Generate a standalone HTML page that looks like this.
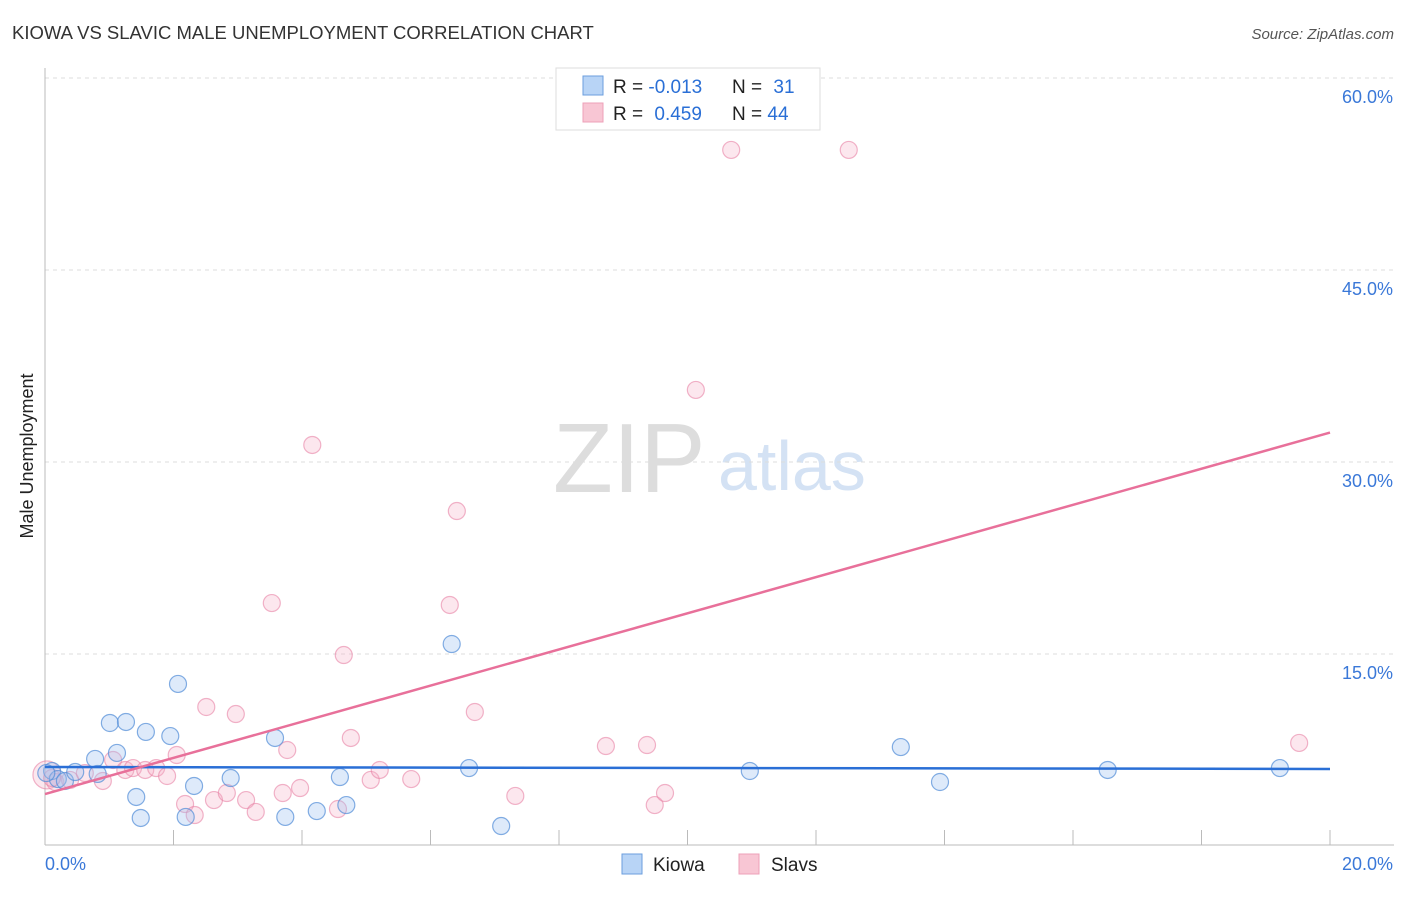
<!DOCTYPE html>
<html><head><meta charset="utf-8"><style>
body{margin:0;background:#fff;font-family:"Liberation Sans",sans-serif;}
svg text{font-family:"Liberation Sans",sans-serif;}
</style></head><body>
<svg width="1406" height="892" xmlns="http://www.w3.org/2000/svg">
<text x="12" y="39" font-size="18.5" fill="#333">KIOWA VS SLAVIC MALE UNEMPLOYMENT CORRELATION CHART</text>
<text x="1394" y="39" font-size="15" fill="#555" font-style="italic" text-anchor="end">Source: ZipAtlas.com</text>
<g>
<text x="553" y="492" font-size="98" fill="#ddd" font-family="Liberation Serif,serif">ZIP</text>
<text x="718" y="490" font-size="70" fill="#d4e2f4">atlas</text>
</g>
<g id="grid"></g>
<g id="axes"></g>
<g id="marks"></g>
<g>
<rect x="556" y="68" width="264" height="62" fill="#fff" stroke="#ddd"/>
<rect x="583" y="76" width="20" height="19" fill="#b8d4f6" stroke="#6b9ede"/>
<rect x="583" y="103" width="20" height="19" fill="#f8c6d4" stroke="#eea0b8"/>
<text x="613" y="93" font-size="19" fill="#222">R = <tspan fill="#2a6fd6">-0.013</tspan></text>
<text x="732" y="93" font-size="19" fill="#222">N = <tspan fill="#2a6fd6" dx="6">31</tspan></text>
<text x="613" y="120" font-size="19" fill="#222">R = <tspan fill="#2a6fd6" dx="6">0.459</tspan></text>
<text x="732" y="120" font-size="19" fill="#222">N = <tspan fill="#2a6fd6">44</tspan></text>
</g>
<g>
<rect x="622" y="854" width="20" height="20" fill="#b8d4f6" stroke="#6b9ede"/>
<text x="653" y="871" font-size="19" fill="#222">Kiowa</text>
<rect x="739" y="854" width="20" height="20" fill="#f8c6d4" stroke="#eea0b8"/>
<text x="771" y="871" font-size="19" fill="#222">Slavs</text>
</g>
<text transform="translate(33,456) rotate(-90)" font-size="18" fill="#222" text-anchor="middle">Male Unemployment</text>
</svg>
<script>
const yTicks=[15,30,45,60];
const yTickLabels=["15.0%","30.0%","45.0%","60.0%"];
const xTickLabels=["0.0%","20.0%"];
const kiowaX=[0.11,0.20,0.31,0.47,0.78,0.82,1.01,1.12,1.26,1.42,1.49,1.57,1.95,2.07,2.19,2.32,2.89,3.58,3.74,4.23,4.59,4.69,6.33,6.60,7.10,10.97,13.32,13.93,16.54,19.22,0.02];
const kiowaY=[5.86,5.23,5.08,5.78,6.80,5.63,9.61,7.27,9.69,3.83,2.19,8.91,8.59,12.66,2.27,4.69,5.31,8.44,2.27,2.73,5.39,3.20,15.78,6.09,1.56,5.86,7.73,5.00,5.94,6.09,5.70];
const slavsX=[0.03,0.16,0.39,0.62,0.90,1.06,1.25,1.37,1.56,1.73,1.90,2.05,2.18,2.33,2.51,2.63,2.83,2.97,3.13,3.28,3.53,3.70,3.77,3.97,4.16,4.56,4.65,4.76,5.07,5.21,5.70,6.30,6.41,6.69,7.32,8.73,9.37,9.49,9.65,10.13,10.68,12.51,19.52,0.11];
const slavsY=[5.55,5.00,5.16,5.70,5.08,6.72,5.94,6.09,5.94,6.09,5.47,7.11,3.28,2.42,10.86,3.59,4.14,10.31,3.59,2.66,18.98,4.14,7.50,4.53,31.33,2.89,14.92,8.44,5.16,5.94,5.23,18.83,26.17,10.47,3.91,7.81,7.89,3.20,4.14,35.63,54.38,54.38,8.05,5.31];
const kiowaLine=[6.17,6.02];
const slavsLine=[4.06,32.3];
const NS="http://www.w3.org/2000/svg";
const X0=45,X1=1330,YB=846,PX=12.8;
function sx(v){return X0+v/20*(X1-X0);}
function sy(v){return YB-v*PX;}
function mk(tag,attrs,parent){const e=document.createElementNS(NS,tag);for(const k in attrs)e.setAttribute(k,attrs[k]);document.getElementById(parent).appendChild(e);return e;}
yTicks.forEach((t,i)=>{
 const l=mk('line',{x1:X0,x2:1394,y1:sy(t),y2:sy(t),stroke:'#ddd','stroke-dasharray':'4,4'},'grid');
 
 
 const tx=mk('text',{x:1393,y:sy(t)+25,'font-size':18,fill:'#3a78d8','text-anchor':'end'},'axes');
 tx.textContent=yTickLabels[i];
 
 
});
const ax=mk('line',{x1:X0,x2:X0,y1:68,y2:845,stroke:'#bbb'},'axes');


const bx=mk('line',{x1:X0,x2:1394,y1:845,y2:845,stroke:'#bbb'},'axes');


for(let i=1;i<=10;i++){
 const t=mk('line',{x1:sx(i*2),x2:sx(i*2),y1:830,y2:845,stroke:'#bbb'},'axes');
 
 
}
[[0,'start',45],[1,'end',1393]].forEach(([i,a,x])=>{
 const t=mk('text',{x:x,y:870,'font-size':18,fill:'#3a78d8','text-anchor':a},'axes');
 t.textContent=xTickLabels[i];
 
 
});
slavsX.forEach((x,i)=>{
 const c=mk('circle',{cx:sx(x),cy:sy(slavsY[i]),r:i==0?14:8.5,fill:'rgba(245,175,198,0.3)',stroke:'rgba(232,130,165,0.6)','stroke-width':1.2},'marks');
 
 
});
kiowaX.forEach((x,i)=>{
 const c=mk('circle',{cx:sx(x),cy:sy(kiowaY[i]),r:8.5,fill:'rgba(160,196,240,0.35)',stroke:'rgba(80,140,215,0.7)','stroke-width':1.2},'marks');
 
 
});
const lk=mk('line',{x1:sx(0),x2:sx(20),y1:sy(kiowaLine[0]),y2:sy(kiowaLine[1]),stroke:'#2a6fd6','stroke-width':2.5},'marks');


const ls=mk('line',{x1:sx(0),x2:sx(20),y1:sy(slavsLine[0]),y2:sy(slavsLine[1]),stroke:'#e8709a','stroke-width':2.5},'marks');


</script>
</body></html>
